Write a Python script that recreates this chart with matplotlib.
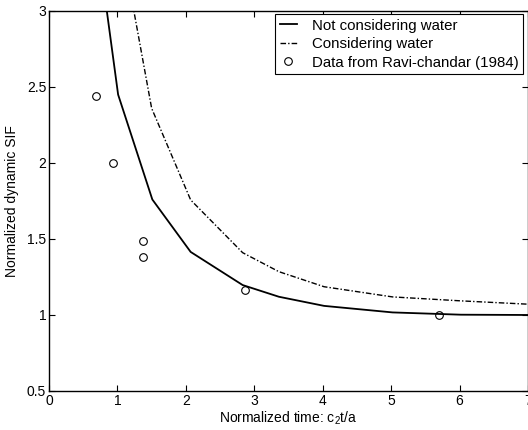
import numpy as np
import matplotlib
matplotlib.use("Agg")
import matplotlib.pyplot as plt

# 水なしの計算結果
dry_t = [0.80, 1.01, 1.51, 2.07, 2.83, 3.36, 4.02, 5.02, 6.02, 7.05]
dry_sif = [3.15, 2.45, 1.76, 1.415, 1.197, 1.12, 1.06, 1.017, 1.002, 1.0]

# 水ありの計算結果
wet_t = [1.22, 1.50, 2.07, 2.83, 3.36, 4.02, 5.02, 6.02, 7.05]
wet_sif = [3.05, 2.36, 1.757, 1.41, 1.285, 1.186, 1.119, 1.093, 1.07]

# Ravi-chandar (1984) の実験値
exp_t = [0.69, 0.94, 1.38, 1.37, 2.87, 5.70]
exp_sif = [2.44, 2.00, 1.487, 1.384, 1.166, 1.00]

labels = ["Not considering water", "Considering water", "Data from Ravi-chandar (1984)"]

plt.rcParams["font.family"] = ["Liberation Sans", "DejaVu Sans"]
plt.rcParams["mathtext.fontset"] = "custom"
plt.rcParams["mathtext.rm"] = "Liberation Sans"
plt.rcParams["mathtext.it"] = "Liberation Sans"
plt.rcParams["font.size"] = 10

fig = plt.figure(figsize=(5.28, 4.30), dpi=100)
ax = fig.add_axes([49 / 528, 39 / 430, 479 / 528, 380 / 430])

ax.plot(dry_t, dry_sif, color="black", lw=1.3, label=labels[0])
ax.plot(wet_t, wet_sif, color="black", lw=1.0, dashes=(4, 1.5, 1, 1.5), label=labels[1])
ax.plot(exp_t, exp_sif, "o", mfc="none", mec="black", ms=5.5, mew=0.8, label=labels[2])

ax.set_xlim(0, 7)
ax.set_ylim(0.5, 3)
ax.set_xticks(np.arange(0, 8, 1))
ax.set_yticks([0.5, 1, 1.5, 2, 2.5, 3])
ax.set_yticklabels(["0.5", "1", "1.5", "2", "2.5", "3"])
ax.tick_params(direction="in", top=True, right=True, length=4, width=0.8, pad=2)
for s in ax.spines.values():
  s.set_linewidth(1.0)

ax.set_xlabel("Normalized time: c$_2$t/a", labelpad=1)
ax.set_ylabel("Normalized dynamic SIF", labelpad=6)

leg = ax.legend(
  loc="upper right",
  bbox_to_anchor=(0.99, 0.992),
  borderaxespad=0,
  fancybox=False,
  framealpha=1,
  edgecolor="black",
  fontsize=10.8,
  handlelength=1.15,
  handletextpad=1.0,
  borderpad=0.3,
  labelspacing=0.3
)
leg.get_frame().set_linewidth(0.8)

fig.savefig("out.png", dpi=100)
